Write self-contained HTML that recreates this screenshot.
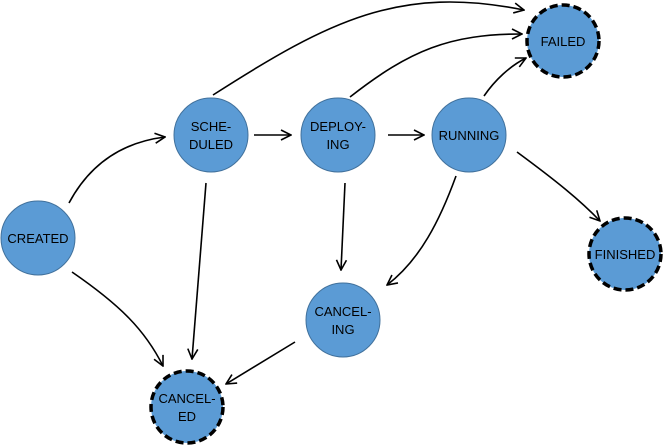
<!DOCTYPE html>
<html><head><meta charset="utf-8"><style>
html,body{margin:0;padding:0;background:#fff;width:665px;height:446px;overflow:hidden}
text{font-family:"Liberation Sans",Arial,sans-serif;font-size:13px;fill:#000}
</style></head><body>
<svg width="665" height="446" viewBox="0 0 665 446" xmlns="http://www.w3.org/2000/svg">
<defs>
<marker id="a" viewBox="0 0 12 12" refX="11" refY="6" markerWidth="12" markerHeight="12" markerUnits="userSpaceOnUse" orient="auto">
<path d="M1,1 L11,6 L1,11" fill="none" stroke="#000" stroke-width="1.6"/>
</marker>
</defs>
<g fill="none" stroke="#000" stroke-width="1.6" marker-end="url(#a)">
<path d="M69,203 Q100,145 165,137"/>
<path d="M254,135 L291,135"/>
<path d="M388,135 L424,135"/>
<path d="M213,95 C330,20 400,-15 524,10"/>
<path d="M350,97 C410,50 450,34 522,34"/>
<path d="M484,96 C495,80 510,66 526,58"/>
<path d="M517,152 C555,180 580,200 600,221"/>
<path d="M456,176 C440,220 420,260 387,285"/>
<path d="M345,183 L341,270"/>
<path d="M206,183 L192,359"/>
<path d="M72,272 C120,305 145,330 163,366"/>
<path d="M295,342 L226,384"/>
</g>
<g fill="#5b9bd5" stroke="#41719c" stroke-width="1">
<circle cx="38" cy="238" r="37"/>
<circle cx="211" cy="135" r="37"/>
<circle cx="338" cy="135" r="37"/>
<circle cx="469" cy="135" r="37"/>
<circle cx="343" cy="320" r="37"/>
</g>
<g fill="#5b9bd5" stroke="#000" stroke-width="3.5" stroke-dasharray="8,4">
<circle cx="563" cy="41" r="36"/>
<circle cx="625" cy="254" r="36"/>
<circle cx="187" cy="407" r="36"/>
</g>
<g text-anchor="middle">
<text x="38" y="243">CREATED</text>
<text x="211" y="131">SCHE-</text><text x="211" y="149">DULED</text>
<text x="338" y="131">DEPLOY-</text><text x="338" y="149">ING</text>
<text x="469" y="140">RUNNING</text>
<text x="563" y="46">FAILED</text>
<text x="625" y="259">FINISHED</text>
<text x="343" y="316">CANCEL-</text><text x="343" y="334">ING</text>
<text x="187" y="403">CANCEL-</text><text x="187" y="421">ED</text>
</g>
</svg>
</body></html>
